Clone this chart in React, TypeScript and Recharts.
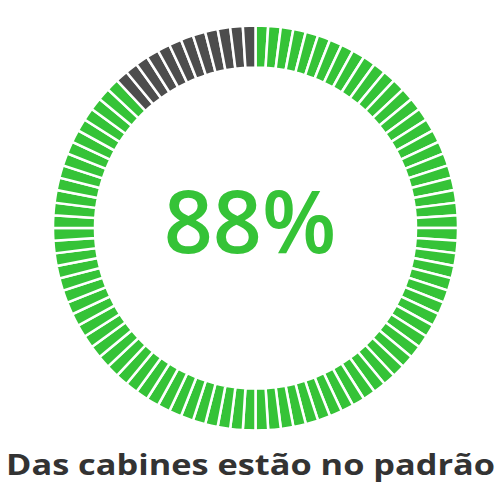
import React from 'react';
import { PieChart, Pie, Cell } from 'recharts';

const percentValue = 88;
const segmentCount = 100;
const centerLabel = '88%';
const caption = 'Das cabines estão no padrão';
const onColor = '#35c337';
const offColor = '#4d4d4d';

const segments = Array.from({ length: segmentCount }, (_, i) => ({
  name: `s${i}`,
  value: 1,
  on: i < percentValue,
}));

export default function App() {
  return (
    <div style={{ position: 'absolute', left: 0, top: 0, width: 500, height: 500, background: '#fff' }}>
      <PieChart width={500} height={500}>
        <Pie
          data={segments}
          dataKey="value"
          cx={250.5}
          cy={223}
          innerRadius={160.5}
          outerRadius={202.5}
          startAngle={90}
          endAngle={-270}
          stroke="#ffffff"
          strokeWidth={2.5}
          isAnimationActive={false}
        >
          {segments.map((s, i) => (
            <Cell key={i} fill={s.on ? onColor : offColor} />
          ))}
        </Pie>
        <text
          x={250}
          y={253}
          textAnchor="middle"
          fill={onColor}
          style={{ fontFamily: '"Open Sans", sans-serif', fontWeight: 600, fontSize: 86 }}
        >
          {centerLabel}
        </text>
        <text
          x={6}
          y={475}
          textLength={489}
          lengthAdjust="spacingAndGlyphs"
          fill="#333333"
          style={{ fontFamily: '"Open Sans", sans-serif', fontWeight: 700, fontSize: 29 }}
        >
          {caption}
        </text>
      </PieChart>
    </div>
  );
}
